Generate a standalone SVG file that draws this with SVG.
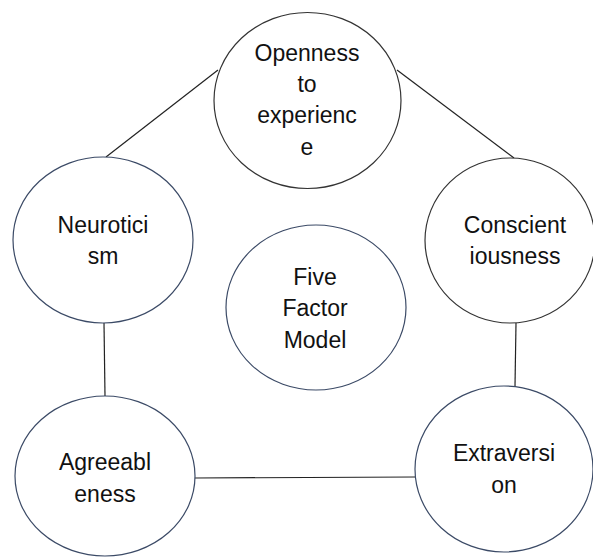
<svg xmlns="http://www.w3.org/2000/svg" width="593" height="558" viewBox="0 0 593 558">
<style>
.n{fill:#fff;stroke-width:1.2}
.k{stroke:#333}
.b{stroke:#3b4a66}
.t{font-family:"Liberation Sans",Arial,sans-serif;font-size:23px;fill:#111;text-anchor:middle}
.c line{stroke:#222;stroke-width:1.2}
</style>
<rect width="593" height="558" fill="#fff"/>
<g class="c" id="connectors">
<line x1="218" y1="70" x2="106" y2="157"/>
<line x1="397" y1="70" x2="514" y2="158"/>
<line x1="104" y1="323" x2="105" y2="396"/>
<line x1="516" y1="323" x2="515" y2="386"/>
<line x1="195" y1="478" x2="415" y2="477"/>
</g>
<g id="openness">
<ellipse class="n k" cx="307.5" cy="100.5" rx="93.5" ry="88"/>
<text class="t" x="307" y="61">Openness</text>
<text class="t" x="307" y="92">to</text>
<text class="t" x="307" y="123">experienc</text>
<text class="t" x="307" y="155">e</text>
</g>
<g id="neuroticism">
<ellipse class="n b" cx="103" cy="240" rx="90" ry="83"/>
<text class="t" x="103" y="233">Neurotici</text>
<text class="t" x="103" y="264">sm</text>
</g>
<g id="conscientiousness">
<ellipse class="n k" cx="510" cy="240.5" rx="85" ry="82.5"/>
<text class="t" x="515" y="233">Conscient</text>
<text class="t" x="515" y="264">iousness</text>
</g>
<g id="five-factor-model">
<ellipse class="n b" cx="316" cy="307.5" rx="90" ry="82.5"/>
<text class="t" x="315" y="285">Five</text>
<text class="t" x="315" y="316">Factor</text>
<text class="t" x="315" y="348">Model</text>
</g>
<g id="agreeableness">
<ellipse class="n b" cx="105" cy="476" rx="90" ry="80"/>
<text class="t" x="105" y="470">Agreeabl</text>
<text class="t" x="105" y="502">eness</text>
</g>
<g id="extraversion">
<ellipse class="n b" cx="504" cy="469" rx="89" ry="83"/>
<text class="t" x="504" y="461">Extraversi</text>
<text class="t" x="504" y="493">on</text>
</g>
</svg>
